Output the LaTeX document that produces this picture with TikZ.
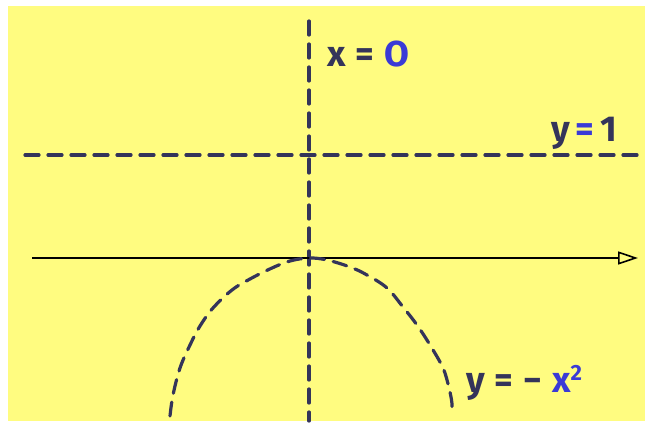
\documentclass[tikz,border=0pt]{standalone}
\usepackage{fontspec}
\setmainfont{Fira Sans}
\usetikzlibrary{arrows.meta}
\definecolor{bgy}{HTML}{FFFC80}
\definecolor{ink}{HTML}{34345A}
\definecolor{blu}{HTML}{3A3AD6}
\tikzset{
  dline/.style={draw=ink, line width=3.2pt, dash pattern=on 14pt off 9pt, line cap=round},
  lbl/.style={inner sep=0pt, anchor=base west, text=ink, font=\fontsize{36}{38}\selectfont\bfseries},
}
\begin{document}
\begin{tikzpicture}[x=1pt,y=-1pt]
\useasboundingbox (0,0) rectangle (645,423);
\fill[bgy] (8,6) rectangle (645,421);
% vertical x=0
\coordinate (vt) at (309,21);
\coordinate (vb) at (309,421);
\draw[dline] (vt) -- (vb);
% horizontal y=1
\coordinate (hl) at (25,155);
\coordinate (hr) at (645,155);
\draw[dline] (hl) -- (hr);
% axis
\coordinate (al) at (32,258);
\coordinate (ar) at (638,258);
\draw[line width=1.6pt, -{Triangle[open, length=20pt, width=13pt, line width=1.6pt]}] (al) -- (ar);
% parabola
\draw[dline] plot[smooth, tension=0.6] coordinates {(170,416) (173,395) (180,368) (190,345) (200,326) (213,308) (232,290) (250,279) (272,268) (290,261) (309,258) (327,260) (350,267) (367,275) (387,288) (403,307) (417,325) (430,345) (443,368) (449,388) (452,404) (451,414)};
% labels
\node[lbl] (l1) at (327,66) {x\;=\;\textcolor{blu}{O}};
\node[lbl] (l2) at (551,141) {y\,\textcolor{blu}{=}\,1};
\node[lbl] (l3) at (466,392) {y\;=\;−\;\textcolor{blu}{x\raisebox{12pt}{\fontsize{22}{24}\selectfont 2}}};
\end{tikzpicture}
\end{document}
